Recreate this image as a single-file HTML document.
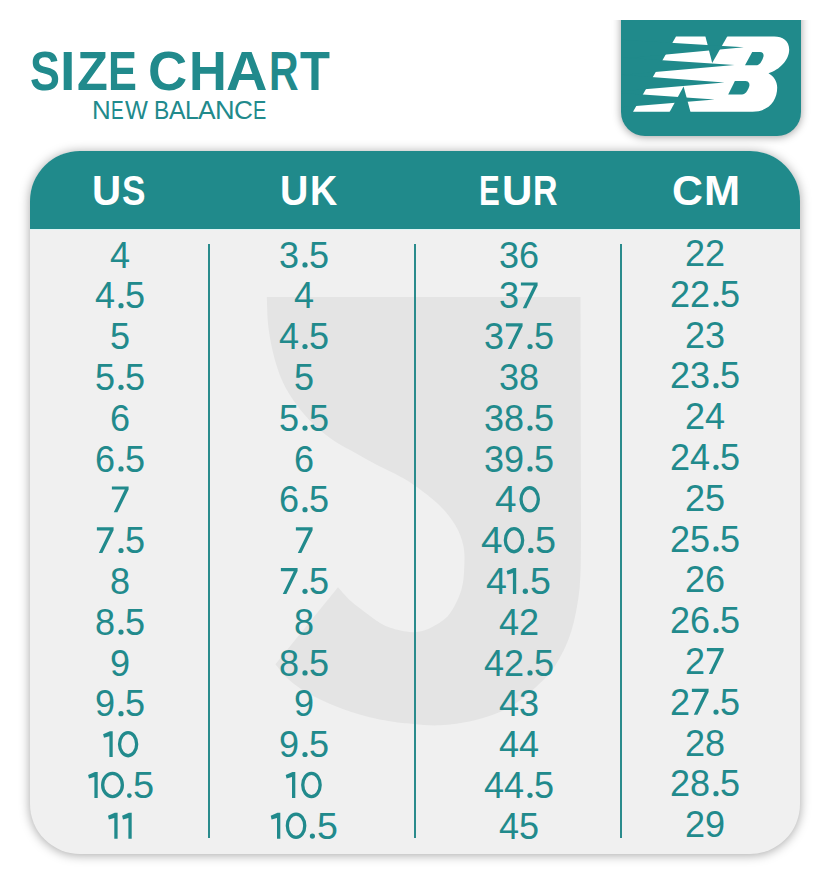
<!DOCTYPE html>
<html><head><meta charset="utf-8">
<style>
*{margin:0;padding:0;box-sizing:border-box}
html,body{width:831px;height:885px;background:#fff;overflow:hidden;position:relative;font-family:"Liberation Sans",sans-serif}
.l{position:absolute;white-space:nowrap;line-height:1;transform-origin:0 0}
#lw{position:absolute;left:0;top:20px;width:831px;height:140px;overflow:hidden}
#logo{position:absolute;left:620.5px;top:-30px;width:180px;height:145.5px;background:#208a8b;border-radius:0 0 24px 24px;box-shadow:0 1px 9px rgba(0,0,0,.38)}
#card{position:absolute;left:30px;top:151px;width:770px;height:703px;background:#f0f0f0;border-radius:50px;box-shadow:0 1px 11px rgba(0,0,0,.36);overflow:hidden}
#head{position:absolute;left:0;top:0;width:770px;height:78.5px;background:#208a8b;border-bottom:1px solid #dff4f4}
.dv{position:absolute;top:244px;width:2.5px;height:594px;background:#2a8b8c}
.d{position:absolute;transform:translateX(-50%);font-size:36px;line-height:40.8px;color:#218a8c;white-space:nowrap}
.g{position:absolute;transform-origin:0 0;font-size:36px;line-height:40.8px;color:#218a8c;white-space:nowrap}
</style></head><body>
<span class="l" style="left:29.51px;top:42.54px;font-size:55.81px;transform:scaleX(0.8044);color:#218a8c;font-weight:bold">S</span>
<span class="l" style="left:60.48px;top:42.54px;font-size:55.81px;transform:scaleX(0.9951);color:#218a8c;font-weight:bold">I</span>
<span class="l" style="left:76.50px;top:42.54px;font-size:55.81px;transform:scaleX(0.9052);color:#218a8c;font-weight:bold">Z</span>
<span class="l" style="left:108.30px;top:42.54px;font-size:55.81px;transform:scaleX(0.7760);color:#218a8c;font-weight:bold">E</span>
<span class="l" style="left:147.87px;top:42.54px;font-size:55.81px;transform:scaleX(0.9728);color:#218a8c;font-weight:bold">C</span>
<span class="l" style="left:188.80px;top:42.54px;font-size:55.81px;transform:scaleX(0.9387);color:#218a8c;font-weight:bold">H</span>
<span class="l" style="left:225.57px;top:42.54px;font-size:55.81px;transform:scaleX(1.0282);color:#218a8c;font-weight:bold">A</span>
<span class="l" style="left:269.46px;top:42.54px;font-size:55.81px;transform:scaleX(0.7339);color:#218a8c;font-weight:bold">R</span>
<span class="l" style="left:299.55px;top:42.54px;font-size:55.81px;transform:scaleX(0.8793);color:#218a8c;font-weight:bold">T</span>
<span class="l" style="left:92.37px;top:96.55px;font-size:26.16px;transform:scaleX(0.9922);color:#218a8c;font-weight:normal">N</span>
<span class="l" style="left:111.14px;top:96.55px;font-size:26.16px;transform:scaleX(0.7264);color:#218a8c;font-weight:normal">E</span>
<span class="l" style="left:125.09px;top:96.55px;font-size:26.16px;transform:scaleX(0.9269);color:#218a8c;font-weight:normal">W</span>
<span class="l" style="left:154.02px;top:96.55px;font-size:26.16px;transform:scaleX(0.8762);color:#218a8c;font-weight:normal">B</span>
<span class="l" style="left:168.95px;top:96.55px;font-size:26.16px;transform:scaleX(0.9453);color:#218a8c;font-weight:normal">A</span>
<span class="l" style="left:185.07px;top:96.55px;font-size:26.16px;transform:scaleX(0.9449);color:#218a8c;font-weight:normal">L</span>
<span class="l" style="left:197.95px;top:96.55px;font-size:26.16px;transform:scaleX(1.0088);color:#218a8c;font-weight:normal">A</span>
<span class="l" style="left:214.97px;top:96.55px;font-size:26.16px;transform:scaleX(1.0401);color:#218a8c;font-weight:normal">N</span>
<span class="l" style="left:233.97px;top:96.55px;font-size:26.16px;transform:scaleX(1.0019);color:#218a8c;font-weight:normal">C</span>
<span class="l" style="left:253.17px;top:96.55px;font-size:26.16px;transform:scaleX(0.7616);color:#218a8c;font-weight:normal">E</span>
<div id="lw"><div id="logo">
<svg width="180" height="116" viewBox="620.5 20 180 116" style="position:absolute;left:0;top:30px">
<path fill="#fff" d="M675.5 36.6 L773.8 36.6 C782 36.6 788.7 41 788.7 49.5 C788.7 60 779 70 768 73.2 C773 76 776.7 81 776.7 87.6 C776.7 101 768 111.7 752 111.7 L632.5 111.7 Z"/>
<g fill="#208a8b">
<path d="M703.3 30 L730.4 30 L711.7 63.1 Z"/>
<path d="M665.8 118 L683.1 86.6 L691.6 118 Z"/>
<path d="M620 39.8 L743.4 47.3 L620 58.8 Z"/>
<path d="M620 57.5 L734 65 L620 75 Z"/>
<path d="M620 74.7 L724 82.6 L620 91.4 Z"/>
<path d="M620 92.9 L714.2 99.5 L620 107.3 Z"/>
<path d="M744.5 65.3 L751.7 52.1 L759.5 52.1 C763 52.1 763.8 55 762.5 58 C761 62 759 65.3 755.5 65.3 Z"/>
<path d="M727.7 94.4 L734.4 80.9 L745 80.9 C748.5 80.9 749.6 84 748.5 87 C747 91 745 94.4 741.5 94.4 Z"/>
</g>
</svg>
</div></div>
<div id="card">
<svg width="770" height="702" viewBox="30 151 770 702" style="position:absolute;left:0;top:0">
<path fill="#e4e4e4" d="M266.8 297 L580.5 297 L581 540 C580.8 548.0 581.2 572.8 579.6 588.0 C578.0 603.2 575.2 618.6 571.2 631.5 C567.2 644.4 561.3 655.9 555.5 665.1 C549.7 674.3 544.3 679.6 536.3 686.8 C528.3 694.0 517.8 702.9 507.4 708.5 C497.0 714.1 484.9 717.7 473.7 720.5 C462.5 723.3 449.9 724.7 440.0 725.3 C430.1 725.9 421.5 724.5 414.0 724.0 C406.5 723.5 402.8 723.4 394.8 722.1 C386.8 720.8 375.5 718.9 365.9 716.3 C356.3 713.7 346.6 710.6 337.0 706.7 C327.4 702.9 316.1 697.7 308.1 693.2 C300.1 688.7 294.3 684.5 288.9 679.7 C283.4 674.9 277.6 666.9 275.4 664.3 L338 587.3 C340.1 589.5 345.5 596.3 350.5 600.8 C355.5 605.3 362.0 610.1 367.8 614.3 C373.6 618.5 378.7 622.9 385.1 625.8 C391.5 628.7 400.5 630.7 406.3 631.6 C412.1 632.5 415.6 632.2 420.0 631.4 C424.4 630.6 427.9 629.5 432.8 626.7 C437.7 623.9 444.4 620.6 449.1 614.5 C453.9 608.4 458.8 598.1 461.3 590.0 C463.8 581.9 464.0 573.1 464.3 565.7 C464.6 558.3 464.8 552.2 463.3 545.4 C461.8 538.6 459.3 531.8 455.2 525.0 C451.1 518.2 445.7 511.3 438.9 504.7 C432.1 498.1 422.0 490.6 414.6 485.4 C407.2 480.2 401.2 477.2 394.6 473.6 C388.0 470.0 381.6 467.3 375.2 463.9 C368.8 460.5 362.3 456.8 355.9 453.2 C349.5 449.6 342.7 446.4 336.6 442.5 C330.5 438.6 324.8 434.3 319.4 429.6 C314.0 424.9 309.0 419.9 304.4 414.5 C299.8 409.1 295.1 402.8 291.5 397.4 C287.9 392.0 285.4 387.7 282.9 382.3 C280.4 376.9 278.5 371.6 276.5 365.2 C274.5 358.8 272.5 350.9 271.1 343.7 C269.7 336.5 268.6 330.0 267.9 322.2 C267.2 314.4 267.0 301.3 266.8 297.1 Z"/>
</svg>
<div id="head"></div>
</div>
<span class="l" style="left:92.48px;top:168.63px;font-size:43.31px;transform:scaleX(0.9295);color:#fff;font-weight:bold">U</span>
<span class="l" style="left:121.89px;top:168.63px;font-size:43.31px;transform:scaleX(0.8131);color:#fff;font-weight:bold">S</span>
<span class="l" style="left:280.24px;top:168.63px;font-size:43.31px;transform:scaleX(0.9065);color:#fff;font-weight:bold">U</span>
<span class="l" style="left:309.57px;top:168.63px;font-size:43.31px;transform:scaleX(0.8720);color:#fff;font-weight:bold">K</span>
<span class="l" style="left:479.31px;top:168.63px;font-size:43.31px;transform:scaleX(0.7201);color:#fff;font-weight:bold">E</span>
<span class="l" style="left:501.77px;top:168.63px;font-size:43.31px;transform:scaleX(0.9718);color:#fff;font-weight:bold">U</span>
<span class="l" style="left:532.72px;top:168.63px;font-size:43.31px;transform:scaleX(0.7856);color:#fff;font-weight:bold">R</span>
<span class="l" style="left:672.34px;top:168.63px;font-size:43.31px;transform:scaleX(0.9887);color:#fff;font-weight:bold">C</span>
<span class="l" style="left:703.50px;top:168.63px;font-size:43.31px;transform:scaleX(1.0005);color:#fff;font-weight:bold">M</span>
<div class="dv" style="left:207.8px"></div>
<div class="dv" style="left:413.8px"></div>
<div class="dv" style="left:619.8px"></div>
<div class="d" style="left:120px;top:235.50px">4</div>
<div class="g" style="left:94.98px;top:276.30px">4</div>
<div class="g" style="left:125.00px;top:276.30px">5</div>
<div class="d" style="left:120px;top:317.10px">5</div>
<div class="g" style="left:94.98px;top:357.90px">5</div>
<div class="g" style="left:125.00px;top:357.90px">5</div>
<div class="d" style="left:120px;top:398.70px">6</div>
<div class="g" style="left:94.98px;top:439.50px">6</div>
<div class="g" style="left:125.00px;top:439.50px">5</div>
<div class="g" style="left:125.00px;top:521.10px">5</div>
<div class="d" style="left:120px;top:561.90px">8</div>
<div class="g" style="left:94.98px;top:602.70px">8</div>
<div class="g" style="left:125.00px;top:602.70px">5</div>
<div class="d" style="left:120px;top:643.50px">9</div>
<div class="g" style="left:94.98px;top:684.30px">9</div>
<div class="g" style="left:125.00px;top:684.30px">5</div>
<div class="g" style="left:133.28px;top:765.90px;transform:scaleX(1.0546)">5</div>
<div class="g" style="left:278.98px;top:235.50px">3</div>
<div class="g" style="left:309.00px;top:235.50px">5</div>
<div class="d" style="left:304px;top:276.30px">4</div>
<div class="g" style="left:278.98px;top:317.10px">4</div>
<div class="g" style="left:309.00px;top:317.10px">5</div>
<div class="d" style="left:304px;top:357.90px">5</div>
<div class="g" style="left:278.98px;top:398.70px">5</div>
<div class="g" style="left:309.00px;top:398.70px">5</div>
<div class="d" style="left:304px;top:439.50px">6</div>
<div class="g" style="left:278.98px;top:480.30px">6</div>
<div class="g" style="left:309.00px;top:480.30px">5</div>
<div class="g" style="left:309.00px;top:561.90px">5</div>
<div class="d" style="left:304px;top:602.70px">8</div>
<div class="g" style="left:278.98px;top:643.50px">8</div>
<div class="g" style="left:309.00px;top:643.50px">5</div>
<div class="d" style="left:304px;top:684.30px">9</div>
<div class="g" style="left:278.98px;top:725.10px">9</div>
<div class="g" style="left:309.00px;top:725.10px">5</div>
<div class="g" style="left:316.90px;top:806.70px;transform:scaleX(1.0429)">5</div>
<div class="d" style="left:519px;top:235.50px">36</div>
<div class="g" style="left:498.98px;top:276.30px">3</div>
<div class="g" style="left:483.97px;top:317.10px">3</div>
<div class="g" style="left:534.01px;top:317.10px">5</div>
<div class="d" style="left:519px;top:357.90px">38</div>
<div class="g" style="left:483.97px;top:398.70px">38</div>
<div class="g" style="left:534.01px;top:398.70px">5</div>
<div class="g" style="left:483.97px;top:439.50px">39</div>
<div class="g" style="left:534.01px;top:439.50px">5</div>
<div class="g" style="left:495.21px;top:480.30px;transform:scaleX(1.0749)">4</div>
<div class="g" style="left:480.61px;top:521.10px;transform:scaleX(1.0749)">4</div>
<div class="g" style="left:534.69px;top:521.10px;transform:scaleX(1.0487)">5</div>
<div class="g" style="left:485.54px;top:561.90px;transform:scaleX(1.0419)">4</div>
<div class="g" style="left:530.40px;top:561.90px;transform:scaleX(1.0429)">5</div>
<div class="d" style="left:519px;top:602.70px">42</div>
<div class="g" style="left:483.97px;top:643.50px">42</div>
<div class="g" style="left:534.01px;top:643.50px">5</div>
<div class="d" style="left:519px;top:684.30px">43</div>
<div class="d" style="left:519px;top:725.10px">44</div>
<div class="g" style="left:483.97px;top:765.90px">44</div>
<div class="g" style="left:534.01px;top:765.90px">5</div>
<div class="d" style="left:519px;top:806.70px">45</div>
<div class="d" style="left:705px;top:233.90px">22</div>
<div class="g" style="left:669.97px;top:274.70px">22</div>
<div class="g" style="left:720.01px;top:274.70px">5</div>
<div class="d" style="left:705px;top:315.50px">23</div>
<div class="g" style="left:669.97px;top:356.30px">23</div>
<div class="g" style="left:720.01px;top:356.30px">5</div>
<div class="d" style="left:705px;top:397.10px">24</div>
<div class="g" style="left:669.97px;top:437.90px">24</div>
<div class="g" style="left:720.01px;top:437.90px">5</div>
<div class="d" style="left:705px;top:478.70px">25</div>
<div class="g" style="left:669.97px;top:519.50px">25</div>
<div class="g" style="left:720.01px;top:519.50px">5</div>
<div class="d" style="left:705px;top:560.30px">26</div>
<div class="g" style="left:669.97px;top:601.10px">26</div>
<div class="g" style="left:720.01px;top:601.10px">5</div>
<div class="g" style="left:684.98px;top:641.90px">2</div>
<div class="g" style="left:669.97px;top:682.70px">2</div>
<div class="g" style="left:720.01px;top:682.70px">5</div>
<div class="d" style="left:705px;top:723.50px">28</div>
<div class="g" style="left:669.97px;top:764.30px">28</div>
<div class="g" style="left:720.01px;top:764.30px">5</div>
<div class="d" style="left:705px;top:805.10px">29</div>
<svg width="831" height="885" style="position:absolute;left:0;top:0" fill="#218a8c"><circle cx="121.01" cy="305.70" r="2.6"/><circle cx="121.01" cy="387.30" r="2.6"/><circle cx="121.01" cy="468.90" r="2.6"/><polygon points="111.89,486.40 128.59,486.40 128.59,489.50 117.39,512.30 113.79,512.30 124.79,489.60 111.89,489.60"/><polygon points="96.88,527.20 113.58,527.20 113.58,530.30 102.38,553.10 98.78,553.10 109.78,530.40 96.88,530.40"/><circle cx="121.01" cy="550.50" r="2.6"/><circle cx="121.01" cy="632.10" r="2.6"/><circle cx="121.01" cy="713.70" r="2.6"/><polygon points="112.70,731.20 112.70,757.10 109.40,757.10 109.40,736.30 104.00,737.80 103.10,734.20 109.90,731.20"/><ellipse cx="128.10" cy="744.15" rx="8.55" ry="11.60" fill="none" stroke="#218a8c" stroke-width="3.3"/><polygon points="97.70,772.00 97.70,797.90 94.40,797.90 94.40,777.10 89.00,778.60 88.10,775.00 94.90,772.00"/><ellipse cx="112.50" cy="784.95" rx="9.85" ry="11.60" fill="none" stroke="#218a8c" stroke-width="3.3"/><circle cx="129.35" cy="795.55" r="2.35"/><polygon points="117.60,812.80 117.60,838.70 114.30,838.70 114.30,817.90 108.90,819.40 108.00,815.80 114.80,812.80"/><polygon points="131.70,812.80 131.70,838.70 128.40,838.70 128.40,817.90 123.00,819.40 122.10,815.80 128.90,812.80"/><circle cx="305.01" cy="264.90" r="2.6"/><circle cx="305.01" cy="346.50" r="2.6"/><circle cx="305.01" cy="428.10" r="2.6"/><circle cx="305.01" cy="509.70" r="2.6"/><polygon points="295.89,527.20 312.59,527.20 312.59,530.30 301.39,553.10 297.79,553.10 308.79,530.40 295.89,530.40"/><polygon points="280.88,568.00 297.58,568.00 297.58,571.10 286.38,593.90 282.78,593.90 293.78,571.20 280.88,571.20"/><circle cx="305.01" cy="591.30" r="2.6"/><circle cx="305.01" cy="672.90" r="2.6"/><circle cx="305.01" cy="754.50" r="2.6"/><polygon points="295.30,772.00 295.30,797.90 292.00,797.90 292.00,777.10 286.60,778.60 285.70,775.00 292.50,772.00"/><ellipse cx="311.45" cy="784.95" rx="8.70" ry="11.60" fill="none" stroke="#218a8c" stroke-width="3.3"/><polygon points="280.30,812.80 280.30,838.70 277.00,838.70 277.00,817.90 271.60,819.40 270.70,815.80 277.50,812.80"/><ellipse cx="296.05" cy="825.75" rx="8.70" ry="11.60" fill="none" stroke="#218a8c" stroke-width="3.3"/><circle cx="312.40" cy="836.10" r="2.60"/><polygon points="520.90,282.40 537.60,282.40 537.60,285.50 526.40,308.30 522.80,308.30 533.80,285.60 520.90,285.60"/><polygon points="505.89,323.20 522.59,323.20 522.59,326.30 511.39,349.10 507.79,349.10 518.79,326.40 505.89,326.40"/><circle cx="530.02" cy="346.50" r="2.6"/><circle cx="530.02" cy="428.10" r="2.6"/><circle cx="530.02" cy="468.90" r="2.6"/><ellipse cx="529.70" cy="499.35" rx="8.65" ry="11.60" fill="none" stroke="#218a8c" stroke-width="3.3"/><ellipse cx="514.00" cy="540.15" rx="8.65" ry="11.60" fill="none" stroke="#218a8c" stroke-width="3.3"/><circle cx="530.80" cy="550.40" r="2.70"/><polygon points="516.20,568.00 516.20,593.90 512.90,593.90 512.90,573.10 507.50,574.60 506.60,571.00 513.40,568.00"/><circle cx="525.35" cy="591.25" r="2.65"/><circle cx="530.02" cy="672.90" r="2.6"/><circle cx="530.02" cy="795.30" r="2.6"/><circle cx="716.02" cy="304.10" r="2.6"/><circle cx="716.02" cy="385.70" r="2.6"/><circle cx="716.02" cy="467.30" r="2.6"/><circle cx="716.02" cy="548.90" r="2.6"/><circle cx="716.02" cy="630.50" r="2.6"/><polygon points="706.90,648.00 723.60,648.00 723.60,651.10 712.40,673.90 708.80,673.90 719.80,651.20 706.90,651.20"/><polygon points="691.89,688.80 708.59,688.80 708.59,691.90 697.39,714.70 693.79,714.70 704.79,692.00 691.89,692.00"/><circle cx="716.02" cy="712.10" r="2.6"/><circle cx="716.02" cy="793.70" r="2.6"/></svg>
</body></html>
